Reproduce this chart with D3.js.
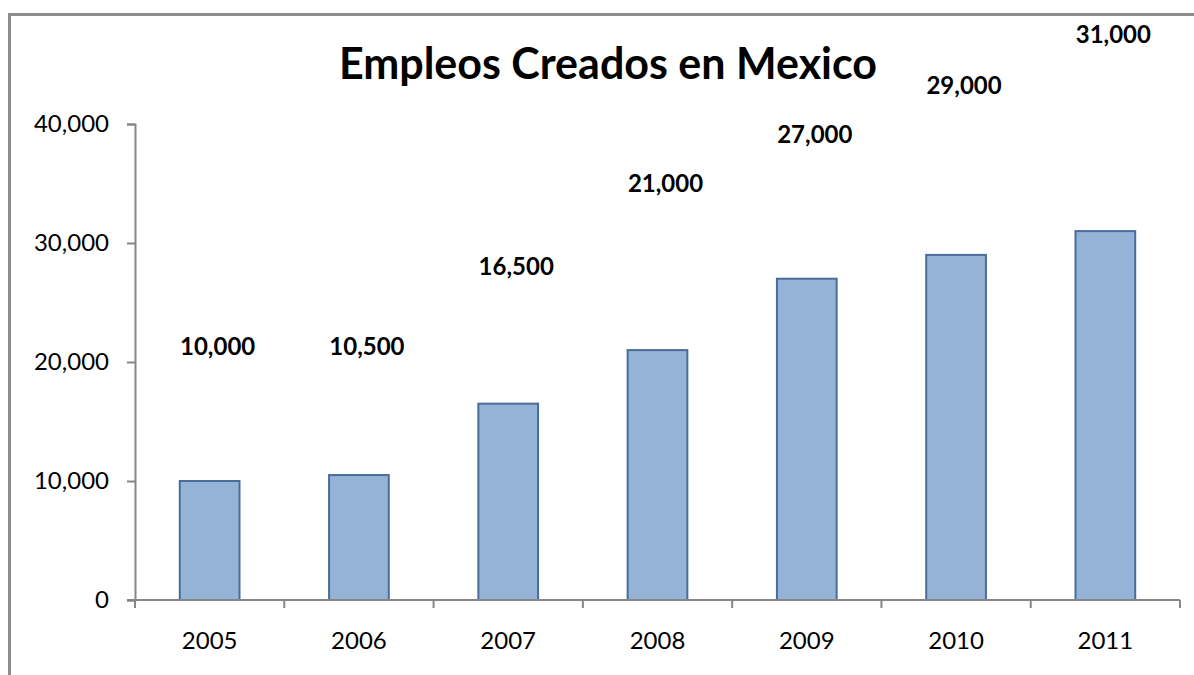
<!DOCTYPE html>
<html>
<head>
<meta charset="utf-8">
<script src="https://cdn.jsdelivr.net/npm/d3@7"></script>
<style>
    body { margin: 0; background: #fff; }
    text { font-family: Lato, "Open Sans", sans-serif; }
</style>
</head>
<body>
<svg id="chart"></svg>
<script>
const years = ["2005", "2006", "2007", "2008", "2009", "2010", "2011"];
const empleos = [10000, 10500, 16500, 21000, 27000, 29000, 31000];
// where each value label sits, in data units (labels float above the bars)
const labelAt = [21260, 21260, 27980, 34960, 39080, 43190, 47480];
const yTicks = [0, 10000, 20000, 30000, 40000];

const width = 1194, height = 675;
const margin = { top: 124, right: 14, bottom: 75, left: 135 };
const innerW = width - margin.left - margin.right;
const innerH = height - margin.top - margin.bottom;

const svg = d3.select("#chart")
    .attr("width", width)
    .attr("height", height);

// chart frame
svg.append("rect")
    .attr("x", 9.5)
    .attr("y", 14.5)
    .attr("width", width + 10)
    .attr("height", height + 10)
    .attr("fill", "none")
    .attr("stroke", "#8c8c8c")
    .attr("stroke-width", 3);

svg.append("text")
    .attr("x", 608)
    .attr("y", 79)
    .attr("text-anchor", "middle")
    .style("font-size", "43px")
    .style("font-weight", "bold")
    .text("Empleos Creados en Mexico");

const g = svg.append("g")
    .attr("transform", `translate(${margin.left},${margin.top})`);

const x = d3.scaleBand()
    .domain(years)
    .range([0, innerW])
    .paddingInner(0.6)
    .paddingOuter(0.3);

const y = d3.scaleLinear()
    .domain([0, 40000])
    .range([innerH, 0]);

const fmt = d3.format(",");

// y axis
const yAxis = g.append("g")
    .call(d3.axisLeft(y).tickValues(yTicks).tickFormat(fmt).tickSize(8).tickPadding(18));
yAxis.selectAll("text").style("font-size", "24px").attr("fill", "#000");

// bars
g.selectAll(".bar")
    .data(empleos)
    .join("rect")
    .attr("class", "bar")
    .attr("x", (d, i) => x(years[i]))
    .attr("y", d => y(d))
    .attr("width", x.bandwidth())
    .attr("height", d => innerH - y(d))
    .attr("fill", "#95b3d7")
    .attr("stroke", "#4a6c9b")
    .attr("stroke-width", 2);

// x axis with ticks on category boundaries
const step = x.step();
const xAxisG = g.append("g").attr("transform", `translate(0,${innerH})`);
xAxisG.append("line")
    .attr("x1", -8).attr("x2", innerW)
    .attr("stroke", "#868686").attr("stroke-width", 2);
xAxisG.selectAll(".xtick")
    .data(d3.range(years.length + 1))
    .join("line")
    .attr("class", "xtick")
    .attr("x1", i => i * step).attr("x2", i => i * step)
    .attr("y1", 0).attr("y2", 8)
    .attr("stroke", "#868686").attr("stroke-width", 2);
xAxisG.selectAll(".xlabel")
    .data(years)
    .join("text")
    .attr("class", "xlabel")
    .attr("x", d => x(d) + x.bandwidth() / 2)
    .attr("y", 49)
    .attr("text-anchor", "middle")
    .style("font-size", "24px")
    .text(d => d);

yAxis.select(".domain").attr("stroke", "#868686").attr("stroke-width", 2);
yAxis.selectAll(".tick line").attr("stroke", "#868686").attr("stroke-width", 2);

// value labels, sitting slightly right of the bar centre as in the original
g.selectAll(".lbl")
    .data(empleos)
    .join("text")
    .attr("class", "lbl")
    .attr("x", (d, i) => x(years[i]) + x.bandwidth() / 2)
    .attr("y", (d, i) => y(labelAt[i]))
    .attr("dx", 8)
    .attr("dy", "0.35em")
    .attr("text-anchor", "middle")
    .style("font-size", "24px")
    .style("font-weight", "bold")
    .text(d => fmt(d));
</script>
</body>
</html>
